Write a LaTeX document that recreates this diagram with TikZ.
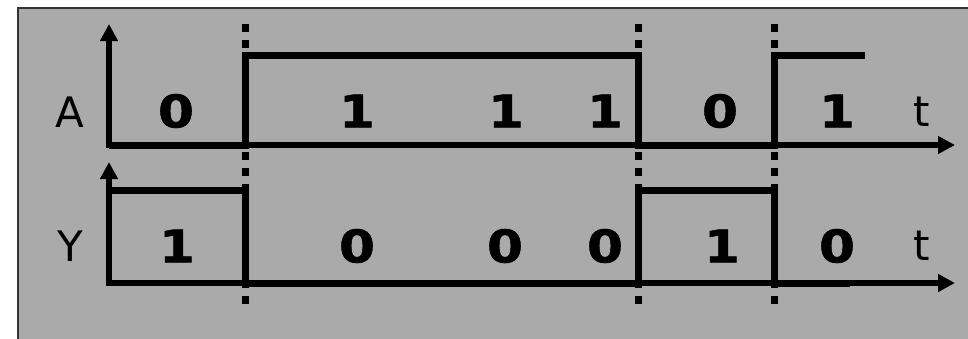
\documentclass[tikz,border=0pt]{standalone}
\usepackage{fontspec}
\setmainfont{DejaVu Sans}
\newfontfamily\bitfont{DejaVu Sans Bold}[FakeStretch=1.15,FakeBold=1.2]
\usetikzlibrary{arrows.meta}
\definecolor{panelgray}{HTML}{AAAAAA}

\begin{document}
\begin{tikzpicture}[x=1pt,y=-1pt]
\tikzset{
  letter/.style={text=black,font=\fontsize{42}{42}\selectfont,inner sep=0pt},
  bit/.style={text=black,font=\bitfont\fontsize{45}{45}\selectfont,inner sep=0pt},
  axis/.style={{Triangle[length=17pt,width=17pt]}-{Triangle[length=17pt,width=17pt]},line width=5.5pt,draw=black},
  signal/.style={line width=7pt,draw=black},
  sync/.style={line width=7pt,draw=black,dash pattern=on 8pt off 8pt},
}
\useasboundingbox (0,0) rectangle (968,338);
\path[fill=panelgray,draw=black!80,line width=1.5pt] (18,8) rectangle (990,360);
%
\coordinate (Atop) at (109,24);
\coordinate (Aend) at (955,145);
\coordinate (Ytop) at (109,162);
\coordinate (Yend) at (955,283);
%
\foreach \x in {245,638,774}
  \draw[sync] (\x,24) -- (\x,304);
%
\draw[axis] (Atop) |- (Aend);
\draw[axis] (Ytop) |- (Yend);
%
\draw[signal] (109,145) -- (245,145) -- (245,55) -- (638,55) -- (638,145) -- (774,145) -- (774,55) -- (865,55);
\draw[signal] (109,190) -- (245,190) -- (245,283) -- (638,283) -- (638,190) -- (774,190) -- (774,283) -- (850,283);
%
\node[letter] (nameA) at (70,112) {A};
\node[letter] (nameY) at (70,246) {Y};
\node[letter] (timeA) at (922,112) {t};
\node[letter] (timeY) at (922,246) {t};
\foreach \x/\b [count=\i] in {176/0,357/1,506/1,605/1,720/0,837/1}
  \node[bit] (bitA\i) at (\x,111) {\b};
\foreach \x/\b [count=\i] in {177/1,357/0,505/0,605/0,722/1,837/0}
  \node[bit] (bitY\i) at (\x,246) {\b};
\end{tikzpicture}
\end{document}
